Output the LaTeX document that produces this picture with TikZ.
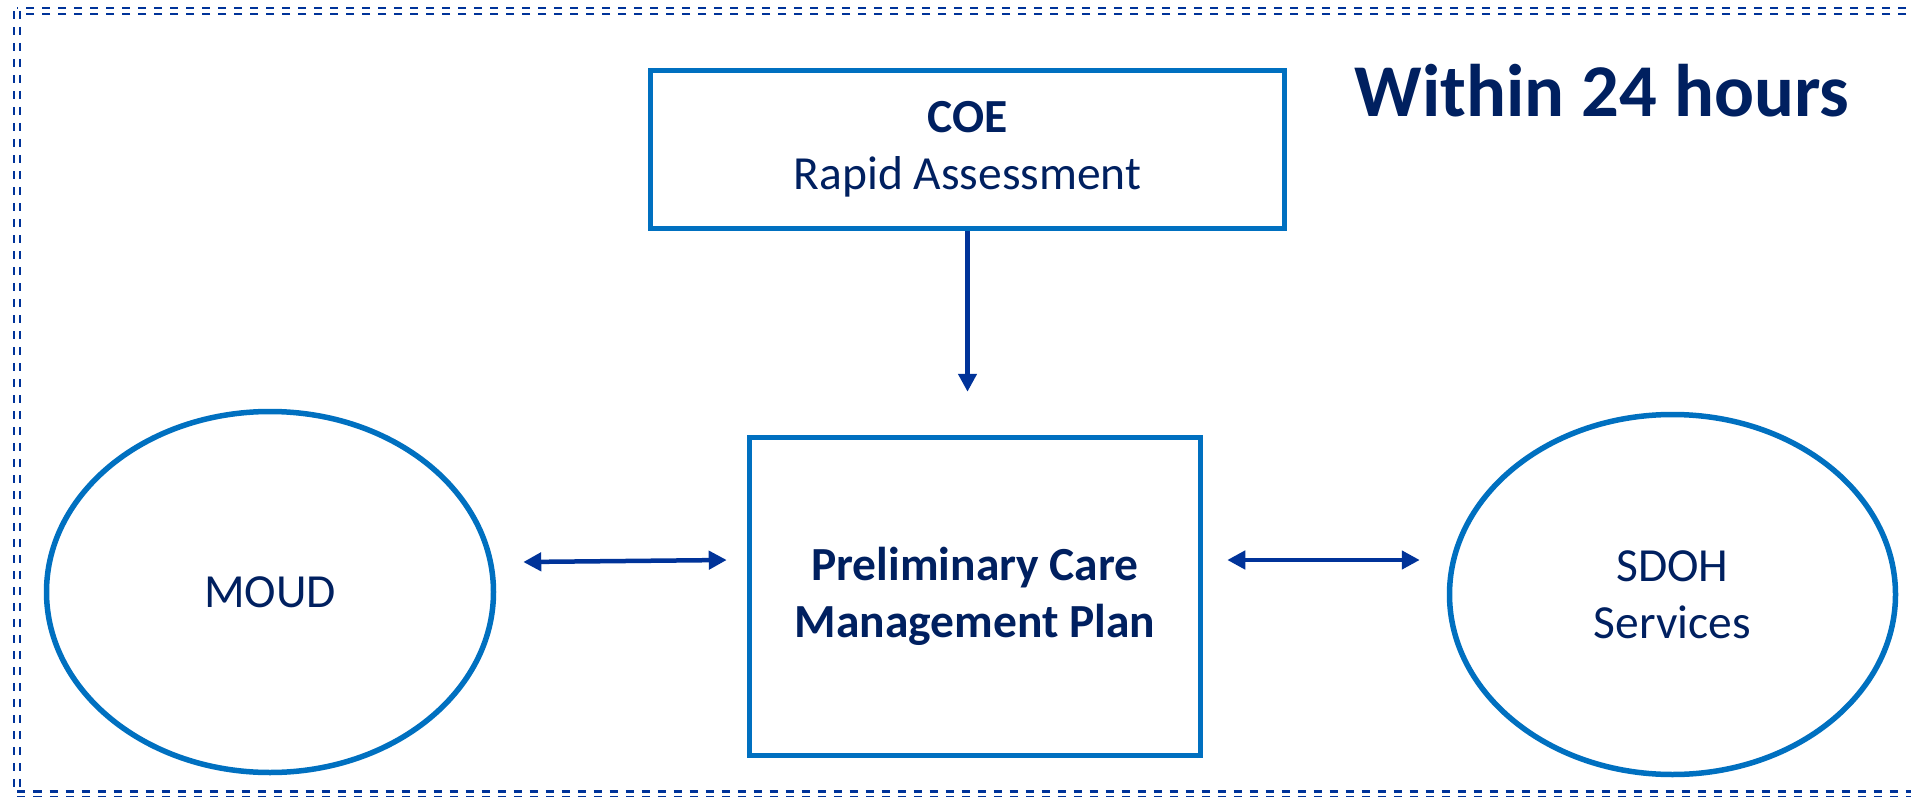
\documentclass[tikz,border=0pt]{standalone}
\usepackage{fontspec}
\setmainfont{Carlito}
\usepackage{tikz}
\usetikzlibrary{arrows.meta, shapes.geometric}
\definecolor{boxblue}{HTML}{0070C0}
\definecolor{textnavy}{HTML}{002060}
\definecolor{arrowblue}{HTML}{003399}
\newcommand\bodyfont{\fontsize{47.5}{57}\selectfont}
\newcommand\headfont{\fontsize{74.5}{88}\selectfont\bfseries}
\tikzset{
  pbox/.style={draw=boxblue, line width=5.5pt, align=center, inner sep=0pt,
    font=\bodyfont, text=textnavy},
  oval/.style={ellipse, draw=boxblue, line width=5.5pt, align=center, inner sep=0pt,
    font=\bodyfont, text=textnavy},
  flow/.style={-{Triangle[length=18pt, width=18pt]}, draw=arrowblue, line width=4.5pt},
  twoway/.style={{Triangle[length=18pt, width=18pt]}-{Triangle[length=18pt, width=18pt]},
    draw=arrowblue, line width=4.5pt},
  frame/.style={draw=arrowblue, double=white, double distance=3.5pt, line width=2.5pt,
    dash pattern=on 8pt off 8pt}
}

\begin{document}
\begin{tikzpicture}[x=1pt, y=-1pt]
\useasboundingbox (0,0) rectangle (1911,797);
\clip (0,0) rectangle (1911,797);
\fill[white] (0,0) rectangle (1911,797);
\draw[frame] (17,11) rectangle (1930,794.5);
\node[text=textnavy, font=\headfont, anchor=base] (deadline) at (1602,117) {Within 24 hours};
\node[pbox, minimum width=634pt, minimum height=158pt] (coe) at (967.5,149.5) {\textbf{COE}\\Rapid Assessment};
\node[pbox, minimum width=451pt, minimum height=318pt, font=\bodyfont\bfseries] (plan) at (975,596.5) {Preliminary Care\\Management Plan};
\node[oval, minimum width=447pt, minimum height=361pt] (moud) at (270,592) {MOUD};
\node[oval, minimum width=446pt, minimum height=360pt] (sdoh) at (1672.5,594.5) {SDOH\\Services};
\coordinate (drop) at ([yshift=43pt]plan.north);
\draw[flow] (coe.south) -- (coe.south |- drop);
\draw[twoway] ([xshift=27pt, yshift=30pt]moud.east) -- ([xshift=-20pt, yshift=36.5pt]plan.west);
\draw[twoway] ([xshift=24pt, yshift=36.5pt]plan.east) -- ([xshift=-27pt, yshift=34.5pt]sdoh.west);
\end{tikzpicture}
\end{document}
